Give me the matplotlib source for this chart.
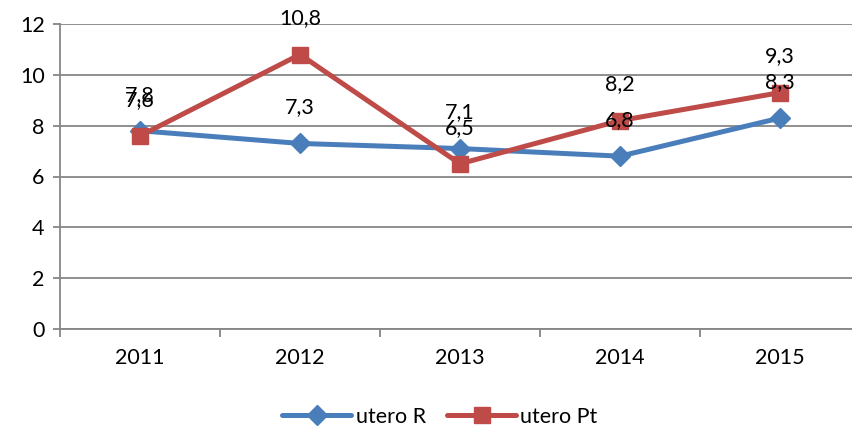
import matplotlib.pyplot as plt
import numpy as np

years = ["2011", "2012", "2013", "2014", "2015"]
utero_r = [7.8, 7.3, 7.1, 6.8, 8.3]
utero_pt = [7.6, 10.8, 6.5, 8.2, 9.3]

plt.rcParams['font.family'] = ['Lato', 'DejaVu Sans']

blue = '#4a7ebb'
red = '#be4b48'
grey = '#868686'
fs = 15.5

fig = plt.figure(figsize=(8.53, 4.33), dpi=100)
ax = fig.add_axes([60 / 853, 1 - 329 / 433, 800 / 853, 305 / 433])

x = np.arange(len(years))
ax.plot(x, utero_r, color=blue, lw=3.6, marker='D', ms=10, mec=blue, mfc=blue,
        label='utero R', zorder=3, solid_capstyle='round')
ax.plot(x, utero_pt, color=red, lw=3.6, marker='s', ms=11.5, mec=red, mfc=red,
        label='utero Pt', zorder=4, solid_capstyle='round')

for series in (utero_r, utero_pt):
    for xi, v in zip(x, series):
        ax.annotate(f"{v:.1f}".replace('.', ','), (xi, v), xytext=(0, 26),
                    textcoords='offset points', ha='center', va='center',
                    fontsize=fs, color='black', zorder=6)

ax.set_xlim(-0.5, 4.5)
ax.set_ylim(0, 12)
ax.set_yticks(range(0, 13, 2))
ax.yaxis.grid(True, color=grey, lw=1.3)
ax.set_axisbelow(True)

ax.set_xticks(x)
ax.set_xticklabels(years)
ax.set_xticks(np.arange(-0.5, 5, 1), minor=True)
ax.tick_params(axis='x', which='major', length=0, pad=14, labelsize=fs)
ax.tick_params(axis='x', which='minor', length=6, width=1.3, color=grey, direction='out')
ax.tick_params(axis='y', length=5, width=1.3, color=grey, labelsize=fs, pad=6)

for s in ('top', 'right'):
    ax.spines[s].set_visible(False)
for s in ('left', 'bottom'):
    ax.spines[s].set_color(grey)
    ax.spines[s].set_linewidth(1.3)

leg = fig.legend(loc='center', bbox_to_anchor=(440 / 853, 1 - 417 / 433), ncol=2,
                 frameon=False, fontsize=fs, handlelength=3.2, columnspacing=1.0,
                 handletextpad=0.2)

fig.savefig('out.png', dpi=100)
